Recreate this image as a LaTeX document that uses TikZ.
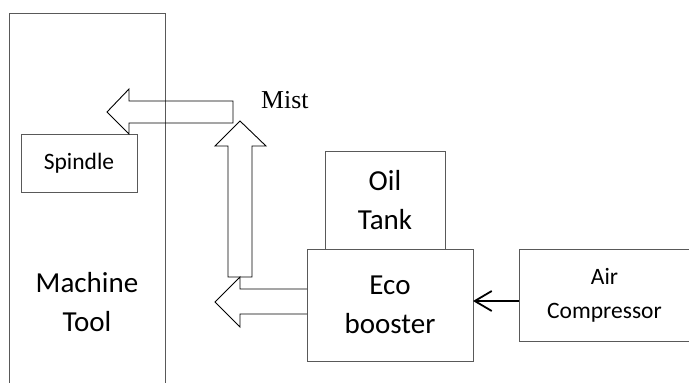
\documentclass[tikz,border=0pt]{standalone}
\usepackage{fontspec}
\setmainfont{Carlito}
\newfontfamily\timesf{Liberation Serif}
\usetikzlibrary{arrows.meta}
\begin{document}
\begin{tikzpicture}[x=1pt,y=-1pt,
  box/.style={draw=black!65,line width=1pt,inner sep=0pt,outer sep=0pt},
  ghost/.style={inner sep=0pt,outer sep=0pt},
  outline/.style={draw=black!65,line width=1pt},
  bigtext/.style={font=\fontsize{29}{39}\selectfont,align=center},
  smalltext/.style={font=\fontsize{23.5}{34}\selectfont,align=center},
  blockarrow/.style={draw=black,line width=0.9pt,line join=miter},
  feed/.style={draw=black,line width=1.8pt,-{Straight Barb[length=17pt,width=20pt,line width=1.8pt]}}
]
\useasboundingbox (0,0) rectangle (689,383);
% machine tool (open at the bottom)
\node[ghost,minimum width=156pt,minimum height=372pt] (mt) at (87,199) {};
\draw[outline] (mt.south west) -- (mt.north west) -- (mt.north east) -- (mt.south east);
\node[bigtext] (mtl) at (87,302) {Machine\\Tool};
% boxes
\node[box,smalltext,minimum width=116pt,minimum height=58pt] (sp) at (79,163) {Spindle};
\node[box,bigtext,minimum width=120pt,minimum height=98pt] (oil) at (385,200) {Oil\\Tank};
\node[box,bigtext,minimum width=166pt,minimum height=112pt] (eco) at (390,305) {Eco\\booster};
\node[ghost,smalltext,minimum width=171pt,minimum height=92pt] (ac) at (604.5,295) {Air\\Compressor};
\draw[outline] (ac.north east) -- (ac.north west) -- (ac.south west) -- (ac.south east);
% feed arrow
\draw[feed] ([yshift=-6pt]ac.west) -- ([yshift=-6pt]ac.west -| eco.east);
% mist label
\node[font=\timesf\fontsize{25.8}{30}\selectfont,anchor=base west,inner sep=0pt] (mist) at (261,108) {Mist};
% block arrows
\draw[blockarrow] (233,101) -- (129,101) -- (129,89) -- (107,112) -- (129,134) -- (129,123) -- (233,123) -- cycle;
\draw[blockarrow] (228,277) -- (228,146) -- (215,146) -- (240,121) -- (266,146) -- (252,146) -- (252,277) -- cycle;
\draw[blockarrow] (307,289) -- (240,289) -- (240,277) -- (215,302) -- (240,327) -- (240,314) -- (307,314);
\end{tikzpicture}
\end{document}
